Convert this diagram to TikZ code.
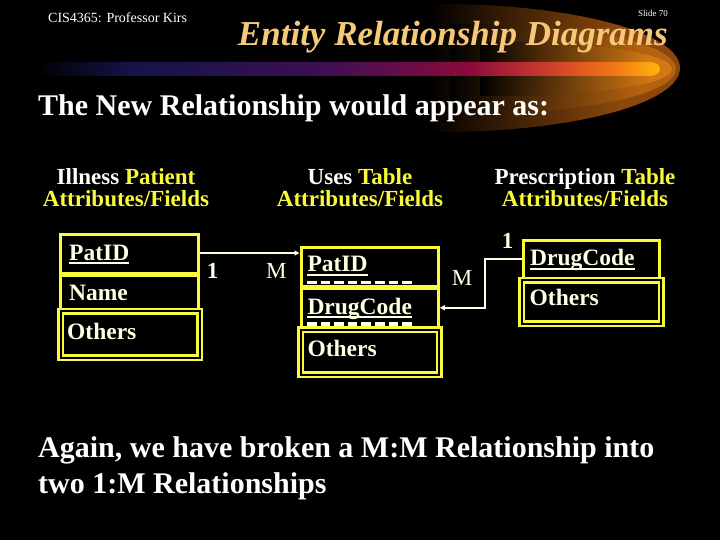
\documentclass[tikz,border=0pt]{standalone}
\usepackage{fontspec}
\setmainfont{Liberation Serif}
\usetikzlibrary{arrows.meta,calc}
\definecolor{ylw}{RGB}{250,250,60}
\definecolor{cream}{RGB}{255,255,228}
\definecolor{ttl}{RGB}{246,200,122}
\definecolor{glowA}{RGB}{140,72,12}
\definecolor{glowB}{RGB}{180,98,16}
\definecolor{glowC}{RGB}{212,120,20}
\definecolor{barA}{RGB}{20,20,75}
\definecolor{barB}{RGB}{60,15,85}
\definecolor{barC}{RGB}{140,10,60}
\definecolor{barD}{RGB}{215,70,40}
\definecolor{barE}{RGB}{245,125,20}
\definecolor{barF}{RGB}{255,185,10}
\begin{document}
\begin{tikzpicture}[x=1pt,y=-1pt,
  txt/.style={inner sep=0pt, anchor=base west},
  big/.style={txt, text=white, font=\fontsize{30}{36}\selectfont\bfseries},
  hdr/.style={inner sep=0pt, anchor=base, text=white, font=\fontsize{23}{28}\selectfont\bfseries},
  fld/.style={draw=ylw, line width=3pt, inner sep=0pt},
  dbl/.style={draw=ylw, line width=2.5pt, double=black, double distance=2pt, inner sep=0pt},
  ftxt/.style={txt, text=cream, font=\fontsize{23.5}{28}\selectfont\bfseries},
  card/.style={txt, text=cream, font=\fontsize{23}{28}\selectfont},
  cardb/.style={txt, text=cream, font=\fontsize{23}{28}\selectfont\bfseries},
  uline/.style={cream, line width=1.8pt},
  dashln/.style={cream, line width=3.5pt, dash pattern=on 9.5pt off 4.1pt},
  conn/.style={cream, line width=2pt},
  tip/.style={-{Triangle[length=5pt,width=5pt]}}
]
\useasboundingbox (0,0) rectangle (720,540);
\fill[black] (0,0) rectangle (720,540);

% glow
\begin{scope}
  \clip (440,68) ellipse [x radius=240, y radius=64];
  \shade[left color=black, right color=glowA] (430,0) rectangle (620,140);
  \fill[glowA] (619,0) rectangle (700,140);
\end{scope}
\begin{scope}
  \clip (472,69) ellipse [x radius=204, y radius=45];
  \shade[left color=black, right color=glowB] (450,0) rectangle (640,140);
  \fill[glowB] (639,0) rectangle (700,140);
\end{scope}
\begin{scope}
  \clip (505,69) ellipse [x radius=167, y radius=27];
  \shade[left color=black, right color=glowC] (480,0) rectangle (650,140);
  \fill[glowC] (649,0) rectangle (700,140);
\end{scope}

% bar
\begin{scope}
  \clip (35,62) -- (650,62) arc[start angle=-90, end angle=90, x radius=10, y radius=7] -- (35,76) -- cycle;
  \shade[left color=black, right color=barA] (35,60) rectangle (131,78);
  \shade[left color=barA, right color=barB] (130,60) rectangle (321,78);
  \shade[left color=barB, right color=barC] (320,60) rectangle (471,78);
  \shade[left color=barC, right color=barD] (470,60) rectangle (561,78);
  \shade[left color=barD, right color=barE] (560,60) rectangle (621,78);
  \shade[left color=barE, right color=barF] (620,60) rectangle (662,78);
\end{scope}

% header texts
\node[txt, text=white, font=\fontsize{14}{16}\selectfont] (cis) at (48,23) {CIS4365: Professor Kirs};
\node[inner sep=0pt, anchor=base east, text=white, font=\fontsize{9}{10}\selectfont] (slide) at (668,17) {Slide 70};
\node[inner sep=0pt, anchor=base east, text=ttl, font=\fontsize{35}{40}\selectfont\bfseries\itshape] (title) at (668,46) {Entity Relationship Diagrams};

\node[big] (intro) at (38,116) {The New Relationship would appear as:};

% column headers
\node[hdr] (h1a) at (126,184.5) {Illness \textcolor{ylw}{Patient}};
\node[hdr, text=ylw] (h1b) at (126,207) {Attributes/Fields};
\node[hdr] (h2a) at (360,184.5) {Uses \textcolor{ylw}{Table}};
\node[hdr, text=ylw] (h2b) at (360,207) {Attributes/Fields};
\node[hdr] (h3a) at (585,184.5) {Prescription \textcolor{ylw}{Table}};
\node[hdr, text=ylw] (h3b) at (585,207) {Attributes/Fields};

% left table
\node[fld, minimum width=138pt, minimum height=39pt] (lpat) at (129.5,254) {};
\node[fld, minimum width=138pt, minimum height=35pt] (lname) at (129.5,292.5) {};
\node[dbl, minimum width=139pt, minimum height=46.5pt] (loth) at (130,334.25) {};
\node[ftxt] (lt1) at (69,260) {PatID};
\node[ftxt] (lt2) at (69,300.7) {Name};
\node[ftxt] (lt3) at (67,339) {Others};
\draw[uline] ($(lt1.base west)+(0,3)$) -- ($(lt1.base east)+(0,3)$);

% middle table
\node[fld, minimum width=137.3pt, minimum height=38.8pt] (mpat) at (369.65,267.1) {};
\node[fld, minimum width=137.3pt, minimum height=38.5pt] (mdrug) at (369.65,307.75) {};
\node[dbl, minimum width=138.7pt, minimum height=45pt] (moth) at (369.85,352) {};
\node[ftxt] (mt1) at (307.3,271.7) {PatID};
\node[ftxt] (mt2) at (307.3,314) {DrugCode};
\node[ftxt] (mt3) at (307.3,356) {Others};
\draw[uline] ($(mt1.base west)+(0,3.3)$) -- ($(mt1.base east)+(0,3.3)$);
\draw[uline] ($(mt2.base west)+(0,3.3)$) -- ($(mt2.base east)+(0,3.3)$);
\draw[dashln] (307,282.5) -- (412,282.5);
\draw[dashln] (307,324) -- (412,324);

% right table
\node[fld, minimum width=136.7pt, minimum height=37.3pt] (rdrug) at (591.35,259.35) {};
\node[dbl, minimum width=139.5pt, minimum height=43.5pt] (roth) at (591.25,301.75) {};
\node[ftxt] (rt1) at (530,265.7) {DrugCode};
\node[ftxt] (rt2) at (529.5,305) {Others};
\draw[uline] ($(rt1.base west)+(0,3.5)$) -- ($(rt1.base east)+(0,3.5)$);

% connectors
\coordinate (lstart) at ($(lpat.east)+(0,-1)$);
\draw[conn, tip] (lstart) -- (mpat.west |- lstart);
\draw[conn, tip] (rdrug.west) -- ++(-37,0) |- (mdrug.east);

% cardinalities
\node[cardb] (c1) at (206.7,278.3) {1};
\node[card] (c2) at (266,278.3) {M};
\node[card] (c3) at (451.7,285) {M};
\node[cardb] (c4) at (501.7,248.3) {1};

% bottom text
\node[big] (b1) at (38,457) {Again, we have broken a M:M Relationship into};
\node[big] (b2) at (38,493) {two 1:M Relationships};
\end{tikzpicture}
\end{document}
